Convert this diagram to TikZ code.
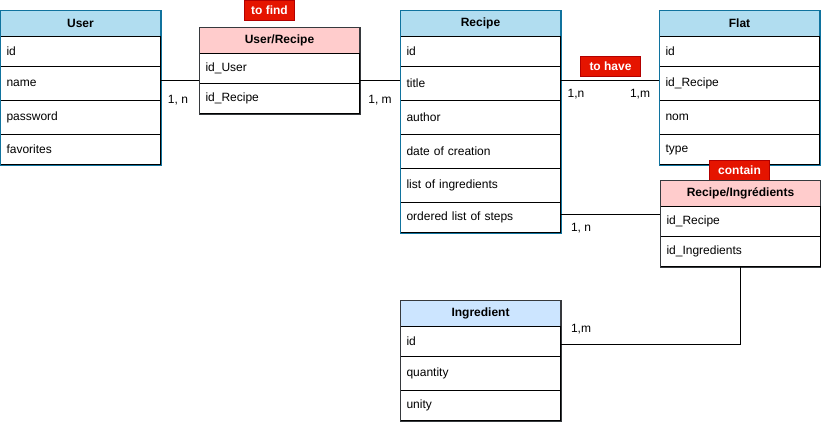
\documentclass[tikz,border=0pt]{standalone}
\usepackage{fontspec}
\setmainfont{Liberation Sans}
\usepackage{xcolor}

\definecolor{headblue}{HTML}{B1DDF0}
\definecolor{frameblue}{HTML}{10739E}
\definecolor{headlight}{HTML}{CCE5FF}
\definecolor{headpink}{HTML}{FFCCCC}
\definecolor{framegray}{HTML}{36393D}
\definecolor{tagred}{HTML}{E51400}
\definecolor{tagline}{HTML}{B20000}

\newcommand{\tabfont}{\fontsize{12}{14}\selectfont}

\tikzset{
    tabhead/.style={draw, anchor=north west, minimum width=160pt, minimum height=26pt, inner sep=0pt, font=\tabfont\bfseries},
    bluehead/.style={tabhead, fill=headblue, draw=frameblue},
    lighthead/.style={tabhead, fill=headlight, draw=framegray},
    pinkhead/.style={tabhead, fill=headpink, draw=framegray},
    tabrow/.style={draw, fill=white, anchor=north west, text width=148pt, inner xsep=6pt, inner ysep=0pt, align=left, font=\tabfont},
    tag/.style={draw=tagline, fill=tagred, text=white, anchor=north west, minimum height=20pt, inner sep=0pt, font=\tabfont\bfseries},
    card/.style={font=\tabfont},
    link/.style={line width=1pt}
}

\begin{document}
\begin{tikzpicture}[x=1pt, y=-1pt, line width=1pt]
    \useasboundingbox (0,0) rectangle (821,424);

    % User
    \node[bluehead] (user) at (0,10) {User};
    \node[tabrow, minimum height=30pt] (user1) at (0,36) {id};
    \node[tabrow, minimum height=34pt] (user2) at (0,66) {name};
    \node[tabrow, minimum height=34pt] (user3) at (0,100) {password};
    \node[tabrow, minimum height=30pt] (user4) at (0,134) {favorites};
    \draw[frameblue] (user.north west) rectangle (user4.south east);

    % User/Recipe
    \node[tag, minimum width=50pt] (tfind) at (244,0) {to find};
    \node[pinkhead] (ur) at (199,27) {User/Recipe};
    \node[tabrow, minimum height=30pt] (ur1) at (199,53) {id\_User};
    \node[tabrow, minimum height=30pt] (ur2) at (199,83) {id\_Recipe};
    \draw[framegray] (ur.north west) rectangle (ur2.south east);

    % Recipe
    \node[bluehead] (rec) at (400,10) {Recipe};
    \node[tabrow, minimum height=30pt] (rec1) at (400,36) {id};
    \node[tabrow, minimum height=34pt] (rec2) at (400,66) {title};
    \node[tabrow, minimum height=34pt] (rec3) at (400,100) {author};
    \node[tabrow, minimum height=34pt] (rec4) at (400,134) {date of creation};
    \node[tabrow, minimum height=34pt] (rec5) at (400,168) {list of ingredients};
    \node[tabrow, minimum height=30pt] (rec6) at (400,202) {ordered list of steps};
    \draw[frameblue] (rec.north west) rectangle (rec6.south east);

    % Flat
    \node[tag, minimum width=60pt] (thave) at (580,56) {to have};
    \node[bluehead] (flat) at (659,10) {Flat};
    \node[tabrow, minimum height=30pt] (flat1) at (659,36) {id};
    \node[tabrow, minimum height=34pt] (flat2) at (659,66) {id\_Recipe};
    \node[tabrow, minimum height=34pt] (flat3) at (659,100) {nom};
    \node[tabrow, minimum height=30pt] (flat4) at (659,134) {type};
    \draw[frameblue] (flat.north west) rectangle (flat4.south east);

    % Recipe/Ingredients
    \node[tag, minimum width=60pt] (tcont) at (709,160) {contain};
    \node[pinkhead] (ri) at (660,180) {Recipe/Ingrédients};
    \node[tabrow, minimum height=30pt] (ri1) at (660,206) {id\_Recipe};
    \node[tabrow, minimum height=30pt] (ri2) at (660,236) {id\_Ingredients};
    \draw[framegray] (ri.north west) rectangle (ri2.south east);

    % Ingredient
    \node[lighthead] (ingr) at (400,300) {Ingredient};
    \node[tabrow, minimum height=30pt] (ingr1) at (400,326) {id};
    \node[tabrow, minimum height=34pt] (ingr2) at (400,356) {quantity};
    \node[tabrow, minimum height=30pt] (ingr3) at (400,390) {unity};
    \draw[framegray] (ingr.north west) rectangle (ingr3.south east);

    % Liens
    \draw[link] ([yshift=3pt]user2.east) -- ([yshift=3pt]user2.east -| ur1.west);
    \draw[link] ([yshift=3pt]rec2.west) -- ([yshift=3pt]rec2.west -| ur1.east);
    \draw[link] ([yshift=3pt]rec2.east) -- ([yshift=3pt]rec2.east -| flat2.west);
    \draw[link] ([yshift=3pt]rec6.east) -- ([yshift=3pt]rec6.east -| ri1.west);
    \draw[link] (ri2.south) |- ([yshift=-3pt]ingr1.east);

    % Cardinalites
    \node[card] (c1) at (178,100) {1, n};
    \node[card] (c2) at (380,100) {1, m};
    \node[card] (c3) at (576,94) {1,n};
    \node[card] (c4) at (640,94) {1,m};
    \node[card] (c5) at (581,228) {1, n};
    \node[card] (c6) at (581,329) {1,m};

\end{tikzpicture}
\end{document}
